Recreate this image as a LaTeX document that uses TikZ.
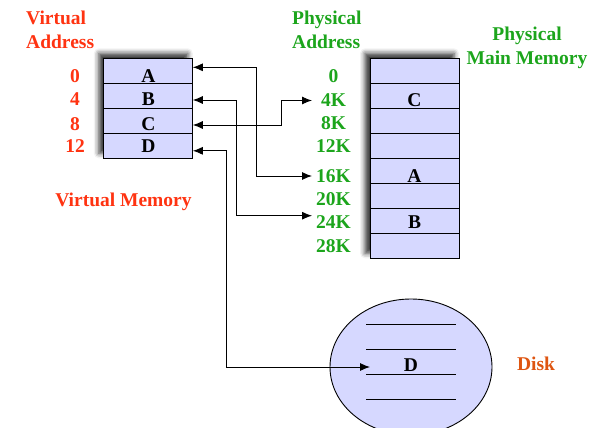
\documentclass[tikz,border=0pt]{standalone}
\usepackage{fontspec}
\setmainfont{Liberation Serif}
\usetikzlibrary{arrows.meta,calc,positioning,shapes.geometric,shadows.blur,backgrounds}

\definecolor{vred}{RGB}{255,51,17}
\definecolor{pgreen}{RGB}{28,165,28}
\definecolor{diskred}{RGB}{222,85,17}
\definecolor{cellblue}{RGB}{214,216,255}

\begin{document}
\begin{tikzpicture}[x=1pt,y=-1pt,
  every node/.style={font=\fontsize{19.5}{24}\selectfont\bfseries},
  cell/.style={draw,fill=cellblue,line width=1pt,minimum width=89pt,
    minimum height=25pt,inner sep=0pt,outer sep=0pt},
  vlab/.style={text=vred},
  plab/.style={text=pgreen},
  memshadow/.style={fill=cellblue,blur shadow={shadow xshift=-5pt,
    shadow yshift=5pt,shadow blur radius=5pt,shadow opacity=80}},
  link/.style={line width=0.9pt,{Latex[length=10pt,width=8pt]}-{Latex[length=10pt,width=8pt]}}]
  \useasboundingbox (0,0) rectangle (602,428);

  % headings
  \node[vlab,align=left,anchor=north west,inner sep=0pt] (vhead) at (26,10.5) {Virtual\\Address};
  \node[plab,align=left,anchor=north west,inner sep=0pt] (phead) at (292,10.5) {Physical\\Address};
  \node[plab,align=center,anchor=north,inner sep=0pt] (mhead) at (527,26.5) {Physical\\Main Memory};

  % virtual memory, four pages
  \node[cell] (vA) at (148.3,70.8) {};
  \node[cell,below=0pt of vA] (vB) {};
  \node[cell,below=0pt of vB] (vC) {};
  \node[cell,below=0pt of vC] (vD) {};
  \foreach \n/\y/\t in {0/76/A,4/99.5/B,8/124/C,12/146/D} {
    \node[vlab] (va\n) at (75,\y) {\n};
    \node (vt\t) at (va\n -| vA) {\t};
  }
  \node[vlab,anchor=base] (vmem) at (123.5,206) {Virtual Memory};

  % physical memory, eight frames
  \node[cell] (p0) at (414.5,70.8) {};
  \foreach \i [count=\j from 0] in {1,...,7}
    \node[cell,below=0pt of p\j] (p\i) {};
  \foreach \i/\t/\y in {0/0/76,1/4K/100.5,2/8K/123,3/12K/146,4/16K/176,5/20K/199,6/24K/222.5,7/28K/246}
    \node[plab] (pa\i) at (333.5,\y) {\t};
  \node (pC) at (pa1 -| p1) {C};
  \node (pA) at (pa4 -| p4) {A};
  \node (pB) at (pa6 -| p6) {B};

  \begin{scope}[on background layer]
    \fill[memshadow] (vA.north west) rectangle (vD.south east);
    \fill[memshadow] (p0.north west) rectangle (p7.south east);
  \end{scope}

  % disk
  \node[ellipse,draw,fill=cellblue,line width=0.9pt,minimum width=162pt,
    minimum height=136pt] (disk) at (411,367) {};
  \foreach \dy in {-43,-18,7,32}
    \draw[line width=0.9pt] ($(disk.center)+(-45,\dy)$) -- ++(90,0);
  \node (dD) at ($(disk.center)+(0,-2)$) {D};
  \node[text=diskred,anchor=base] (disklab) at (536,370) {Disk};

  % page table links
  \coordinate (tipx) at (312,0);
  \coordinate (dtip) at ($(disk.center)+(-41,0)$);
  \draw[link] ($(vA.east)+(0,-3.5)$) -- ++(64,0) |- (pa4 -| tipx);
  \draw[link] ($(vB.east)+(0,4.2)$) -- ++(43.3,0) |- ($(pa6 -| tipx)+(0,-6.8)$);
  \draw[link] ($(vC.east)+(0,4.2)$) -- ++(88.3,0) |- (pa1 -| tipx);
  \draw[link] ($(vD.east)+(0,5)$) -- ++(33.3,0) |- (dtip);
\end{tikzpicture}
\end{document}
